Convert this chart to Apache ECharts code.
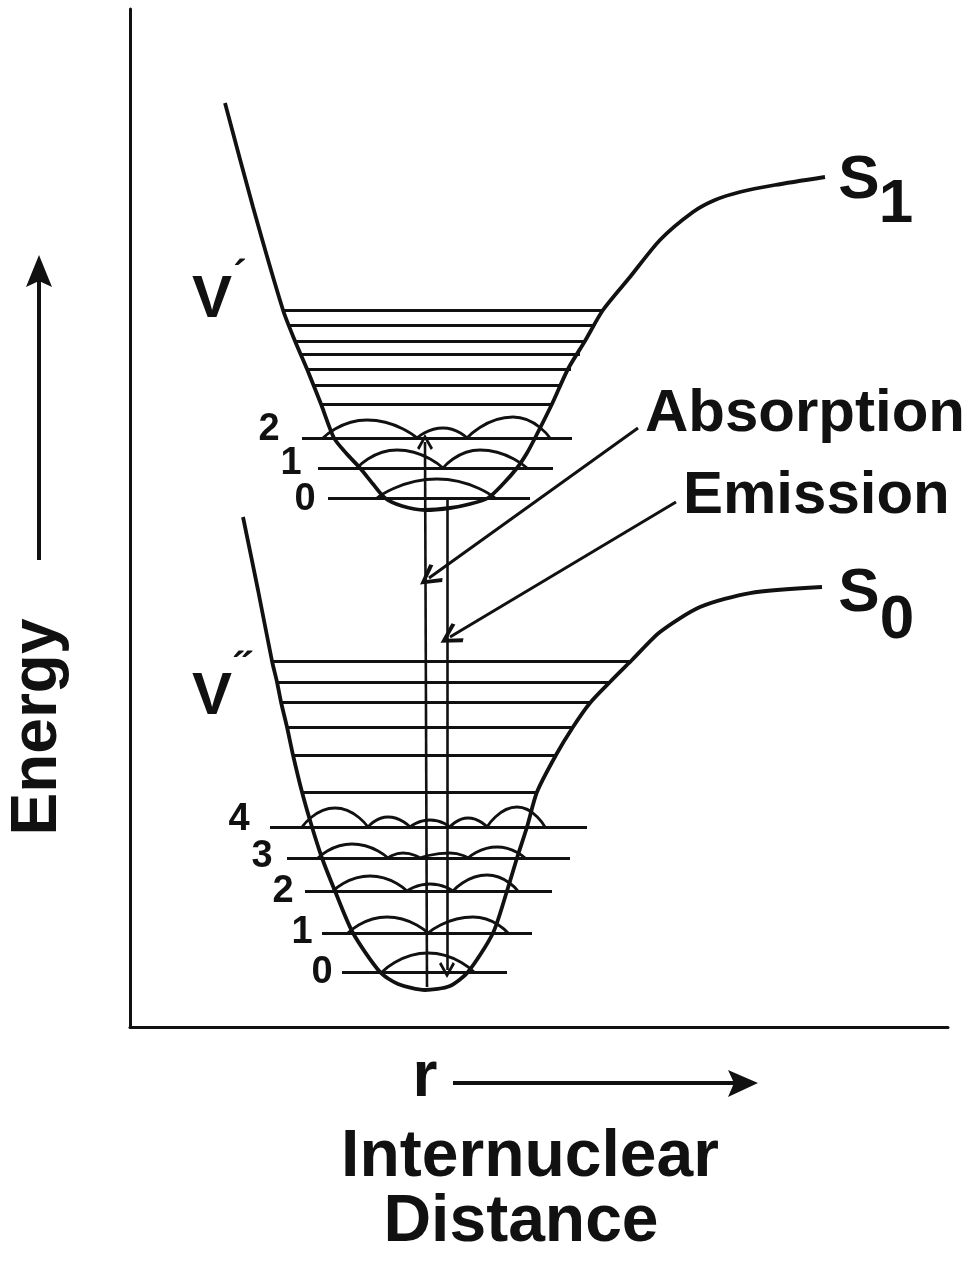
<!DOCTYPE html>
<html>
<head>
<meta charset="utf-8">
<script src="https://cdn.jsdelivr.net/npm/echarts@6/dist/echarts.min.js"></script>
<style>
  html, body { margin: 0; padding: 0; background: #fff; }
  #chart { width: 980px; height: 1266px; }
</style>
</head>
<body>
<div id="chart"></div>
<script>
// Potential energy curves, points as [r, E] (arbitrary units)
const s1Curve = [
  [0.95, 9.24], [1.23, 8.20], [1.53, 7.17], [1.65, 6.86], [1.77, 6.58], [1.91, 6.23],
  [2.04, 5.89], [2.16, 5.74], [2.30, 5.59], [2.43, 5.43], [2.55, 5.29], [2.72, 5.21],
  [2.95, 5.17], [3.20, 5.19], [3.40, 5.23], [3.58, 5.29], [3.73, 5.43], [3.87, 5.59],
  [3.97, 5.74], [4.05, 5.89], [4.22, 6.23], [4.38, 6.58], [4.55, 6.86], [4.73, 7.17],
  [5.00, 7.50], [5.30, 7.87], [5.63, 8.15], [5.85, 8.27], [6.10, 8.35], [6.45, 8.42],
  [6.95, 8.50]
];
const s0Curve = [
  [1.13, 5.10], [1.28, 4.37], [1.42, 3.66], [1.47, 3.45], [1.51, 3.25], [1.57, 3.00],
  [1.63, 2.72], [1.72, 2.35], [1.82, 2.00], [1.92, 1.69], [2.05, 1.36], [2.23, 0.94],
  [2.50, 0.55], [2.68, 0.43], [2.95, 0.37], [3.20, 0.41], [3.38, 0.55], [3.63, 0.94],
  [3.77, 1.36], [3.87, 1.69], [3.97, 2.00], [4.07, 2.35], [4.26, 2.72], [4.43, 3.00],
  [4.60, 3.24], [4.80, 3.45], [5.02, 3.67], [5.30, 3.95], [5.70, 4.20], [6.20, 4.34],
  [6.92, 4.40]
];

// Higher vibrational levels (unnumbered): [E, rLeft, rRight]
const s1UpperLevels = [
  [7.17, 1.53, 4.73], [7.02, 1.59, 4.65], [6.86, 1.65, 4.56], [6.73, 1.70, 4.50],
  [6.58, 1.77, 4.41], [6.42, 1.83, 4.32], [6.23, 1.91, 4.22]
];
const s0UpperLevels = [
  [3.66, 1.42, 5.02], [3.45, 1.47, 4.80], [3.25, 1.51, 4.60], [3.00, 1.57, 4.43],
  [2.72, 1.63, 4.26], [2.35, 1.72, 4.07]
];

// Numbered vibrational levels v' (S1) and v'' (S0): [E, rLeft, rRight], index = v
const s1Levels = [[5.29, 1.98, 4.00], [5.59, 1.88, 4.23], [5.89, 1.72, 4.42]];
const s0Levels = [[0.55, 2.12, 3.77], [0.94, 1.92, 4.02], [1.36, 1.75, 4.22], [1.69, 1.57, 4.40], [2.00, 1.40, 4.57]];

// Probability-density lobes on each numbered level: [start, peak, end], index = v
const s1Lobes = [
  [[[2.47, 5.29], [3.07, 5.48], [3.65, 5.29]]],
  [[[2.27, 5.59], [2.67, 5.77], [3.13, 5.59]], [[3.13, 5.59], [3.50, 5.77], [3.97, 5.59]]],
  [[[1.93, 5.89], [2.37, 6.07], [2.87, 5.89]], [[2.87, 5.89], [3.13, 5.99], [3.37, 5.89]],
   [[3.37, 5.89], [3.83, 6.10], [4.20, 5.89]]]
];
const s0Lobes = [
  [[[2.52, 0.55], [2.98, 0.74], [3.44, 0.55]]],
  [[[2.18, 0.94], [2.57, 1.10], [2.98, 0.94]], [[2.98, 0.94], [3.43, 1.10], [3.78, 0.94]]],
  [[[2.03, 1.36], [2.40, 1.51], [2.77, 1.36]], [[2.77, 1.36], [3.00, 1.43], [3.23, 1.36]],
   [[3.23, 1.36], [3.57, 1.52], [3.88, 1.36]]],
  [[[1.88, 1.69], [2.22, 1.83], [2.58, 1.69]], [[2.58, 1.69], [2.73, 1.74], [2.90, 1.69]],
   [[2.90, 1.69], [3.20, 1.74], [3.38, 1.69]], [[3.38, 1.69], [3.67, 1.80], [3.95, 1.69]]],
  [[[1.72, 2.00], [2.05, 2.19], [2.38, 2.00]], [[2.38, 2.00], [2.58, 2.10], [2.80, 2.00]],
   [[2.80, 2.00], [3.00, 2.07], [3.20, 2.00]], [[3.20, 2.00], [3.38, 2.09], [3.57, 2.00]],
   [[3.57, 2.00], [3.87, 2.20], [4.15, 2.00]]]
];

// Vertical transitions: [from, to]
const absorption = [[2.97, 0.40], [2.95, 5.85]];
const emission = [[3.17, 5.29], [3.17, 0.57]];
// Leader arrows from the captions to the transitions
const absorptionLeader = [[5.08, 5.99], [2.99, 4.49]];
const emissionLeader = [[5.46, 5.25], [3.20, 3.90]];

// Level numbers
const s1LevelNames = ['0', '1', '2'];
const s0LevelNames = ['0', '1', '2', '3', '4'];

// ---------------------------------------------------------------------------
const INK = '#111';
const FONT = '"Liberation Sans", Arial, Helvetica, sans-serif';
const CHEVRON = 'path://M5,0 L10,8.6 L8.6,9.8 L5,3.4 L1.4,9.8 L0,8.6 Z';

// Label anchors [r, E] for the annotations drawn inside the plot
const s1LevelLabelAt = [[1.75, 5.27], [1.61, 5.63], [1.39, 5.97]];
const s0LevelLabelAt = [[1.92, 0.54], [1.72, 0.94], [1.53, 1.35], [1.32, 1.70], [1.09, 2.07]];

const annotations = [
  { text: 'Absorption', at: [5.15, 6.13], size: 60, align: 'left' },
  { text: 'Emission', at: [5.53, 5.31], size: 60, align: 'left' },
  { text: 'S', at: [7.29, 8.46], size: 62 },
  { text: '1', at: [7.66, 8.22], size: 62 },
  { text: 'S', at: [7.29, 4.33], size: 62 },
  { text: '0', at: [7.67, 4.06], size: 62 },
  { text: 'V', at: [0.82, 7.27], size: 60 },
  { text: '\u00B4', at: [1.10, 7.49], size: 40 },
  { text: 'V', at: [0.82, 3.30], size: 60 },
  { text: '\u02DD', at: [1.13, 3.56], size: 44 }
];
s1LevelNames.forEach((n, i) => annotations.push({ text: n, at: s1LevelLabelAt[i], size: 38 }));
s0LevelNames.forEach((n, i) => annotations.push({ text: n, at: s0LevelLabelAt[i], size: 38 }));

const series = [];

function curveSeries(pts) {
  return {
    type: 'line', data: pts, smooth: 0.25,
    symbol: 'none', silent: true,
    lineStyle: { color: INK, width: 3.8 }
  };
}
series.push(curveSeries(s1Curve));
series.push(curveSeries(s0Curve));

// level lines
const levelSegs = [];
[s1UpperLevels, s0UpperLevels, s1Levels, s0Levels].forEach(list => {
  list.forEach(([e, l, r]) => levelSegs.push({ coords: [[l, e], [r, e]] }));
});
series.push({
  type: 'lines', coordinateSystem: 'cartesian2d', silent: true,
  symbol: 'none', data: levelSegs,
  lineStyle: { color: INK, width: 3, opacity: 1, curveness: 0 }
});

// wavefunction lobes
[s1Lobes, s0Lobes].forEach(group => {
  group.forEach(level => {
    level.forEach(lobe => {
      series.push({
        type: 'line', data: lobe, smooth: 0.6, symbol: 'none', silent: true,
        lineStyle: { color: INK, width: 2.8 }
      });
    });
  });
});

// transitions and leaders
series.push({
  type: 'lines', coordinateSystem: 'cartesian2d', silent: true,
  symbol: ['none', CHEVRON], symbolSize: 16,
  data: [{ coords: absorption }, { coords: emission }],
  lineStyle: { color: INK, width: 2.6, opacity: 1 }
});
series.push({
  type: 'lines', coordinateSystem: 'cartesian2d', silent: true,
  symbol: ['none', CHEVRON], symbolSize: 22,
  data: [{ coords: absorptionLeader }, { coords: emissionLeader }],
  lineStyle: { color: INK, width: 3, opacity: 1 }
});

// text annotations
series.push({
  type: 'scatter', symbolSize: 0, silent: true,
  itemStyle: { color: 'transparent', opacity: 1 },
  label: {
    show: true, position: [0, 0], formatter: '{b}',
    color: INK, opacity: 1, fontFamily: FONT, fontWeight: 'bold',
    align: 'center', verticalAlign: 'middle'
  },
  data: annotations.map(a => ({
    name: a.text, value: a.at,
    label: { fontSize: a.size, align: a.align || 'center' }
  }))
});

const chart = echarts.init(document.getElementById('chart'), null, { renderer: 'canvas' });

function txt(text, x, y, size, rotation) {
  return {
    type: 'text', x: x, y: y, rotation: rotation || 0, silent: true,
    style: {
      text: text, fill: INK, font: 'bold ' + size + 'px ' + FONT,
      align: 'center', verticalAlign: 'middle',
      textAlign: 'center', textVerticalAlign: 'middle'
    }
  };
}

chart.setOption({
  animation: false,
  backgroundColor: '#fff',
  grid: { left: 130, right: 32, top: 9, bottom: 239 },
  xAxis: {
    type: 'value', min: 0, max: 8.18,
    axisLine: { show: true, lineStyle: { color: INK, width: 3 } },
    axisTick: { show: false }, axisLabel: { show: false }, splitLine: { show: false }
  },
  yAxis: {
    type: 'value', min: 0, max: 10.18,
    axisLine: { show: true, lineStyle: { color: INK, width: 3 } },
    axisTick: { show: false }, axisLabel: { show: false }, splitLine: { show: false }
  },
  graphic: [
    // Energy axis title and arrow
    txt('Energy', 38, 727, 64, Math.PI / 2),
    { type: 'line', silent: true, shape: { x1: 39, y1: 560, x2: 39, y2: 280 },
      style: { stroke: INK, lineWidth: 4 } },
    { type: 'polygon', silent: true, shape: { points: [[39, 255], [52, 287], [39, 281], [26, 287]] },
      style: { fill: INK } },
    // r axis arrow and title
    txt('r', 425, 1078, 64),
    { type: 'line', silent: true, shape: { x1: 453, y1: 1083, x2: 734, y2: 1083 },
      style: { stroke: INK, lineWidth: 4 } },
    { type: 'polygon', silent: true, shape: { points: [[758, 1083], [728, 1070], [734, 1083], [728, 1097]] },
      style: { fill: INK } },
    txt('Internuclear', 530, 1158, 66),
    txt('Distance', 521, 1223, 66)
  ],
  series: series
});
</script>
</body>
</html>
